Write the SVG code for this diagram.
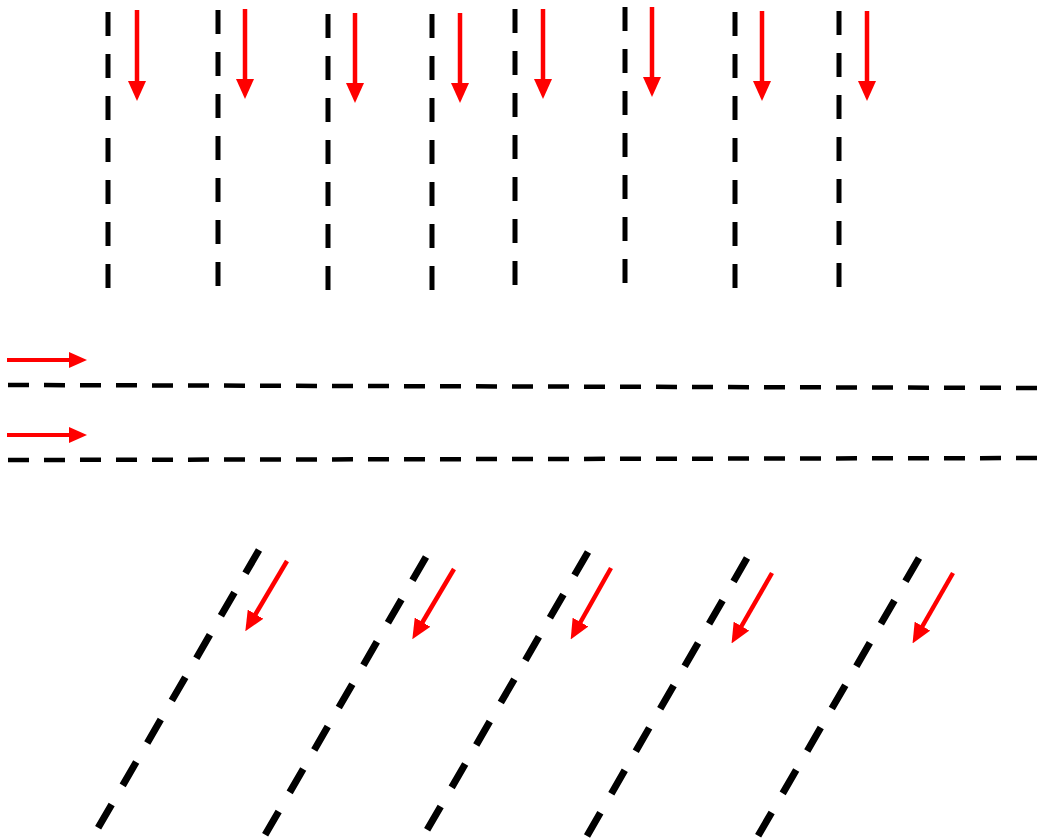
<svg xmlns="http://www.w3.org/2000/svg" width="1051" height="839" viewBox="0 0 1051 839">
<style>
.v{stroke:#000;stroke-width:5;stroke-dasharray:24 18;fill:none}
.h{stroke:#000;stroke-width:4.5;stroke-dasharray:21 15;fill:none}
.d{stroke:#000;stroke-width:7;stroke-dasharray:27 22;fill:none}
.a{stroke:#f00;stroke-width:4.5;fill:none;marker-end:url(#ah)}
.s{stroke:#f00;stroke-width:4;fill:none;marker-end:url(#as)}
</style>
<defs>
<marker id="ah" viewBox="0 0 20 18" refX="1" refY="9" markerWidth="20" markerHeight="18" markerUnits="userSpaceOnUse" orient="auto">
<path d="M0,0 L20,9 L0,18 z" fill="#f00"/>
</marker>
<marker id="as" viewBox="0 0 18 16" refX="1" refY="8" markerWidth="18" markerHeight="16" markerUnits="userSpaceOnUse" orient="auto">
<path d="M0,0 L18,8 L0,16 z" fill="#f00"/>
</marker>
</defs>
<rect width="1051" height="839" fill="#fff"/>
<g id="lanes-top">
<line class="v" x1="108" y1="12" x2="108" y2="288"/>
<line class="v" x1="218" y1="10" x2="218" y2="286"/>
<line class="v" x1="328" y1="14" x2="328" y2="290"/>
<line class="v" x1="432" y1="14" x2="432" y2="290"/>
<line class="v" x1="515" y1="9" x2="515" y2="285"/>
<line class="v" x1="625" y1="7" x2="625" y2="283"/>
<line class="v" x1="735" y1="12" x2="735" y2="288"/>
<line class="v" x1="839" y1="11" x2="839" y2="287"/>
</g>
<g id="lanes-middle">
<line class="h" x1="8" y1="385" x2="1051" y2="388"/>
<line class="h" x1="8" y1="460" x2="1051" y2="458"/>
</g>
<g id="lanes-bottom">
<line class="d" x1="259" y1="550" x2="98" y2="828"/>
<line class="d" x1="426" y1="557" x2="265" y2="835"/>
<line class="d" x1="588" y1="552" x2="427" y2="830"/>
<line class="d" x1="747" y1="558" x2="587" y2="836"/>
<line class="d" x1="919" y1="558" x2="758" y2="836"/>
</g>
<g id="connectors">
<line class="a" x1="137" y1="10" x2="137" y2="82"/>
<line class="a" x1="245" y1="9" x2="245" y2="80"/>
<line class="a" x1="355" y1="13" x2="355" y2="84"/>
<line class="a" x1="460" y1="13" x2="460" y2="84"/>
<line class="a" x1="543" y1="9" x2="543" y2="80"/>
<line class="a" x1="652" y1="7" x2="652" y2="78"/>
<line class="a" x1="762" y1="11" x2="762" y2="82"/>
<line class="a" x1="867" y1="11" x2="867" y2="82"/>
<line class="s" x1="7" y1="360" x2="70" y2="360"/>
<line class="s" x1="7" y1="435" x2="70" y2="435"/>
<line class="a" x1="287" y1="561" x2="255" y2="615"/>
<line class="a" x1="454" y1="569" x2="422" y2="623"/>
<line class="a" x1="611" y1="568" x2="580" y2="623"/>
<line class="a" x1="772" y1="573" x2="741" y2="627"/>
<line class="a" x1="953" y1="573" x2="922" y2="627"/>
</g>
</svg>
